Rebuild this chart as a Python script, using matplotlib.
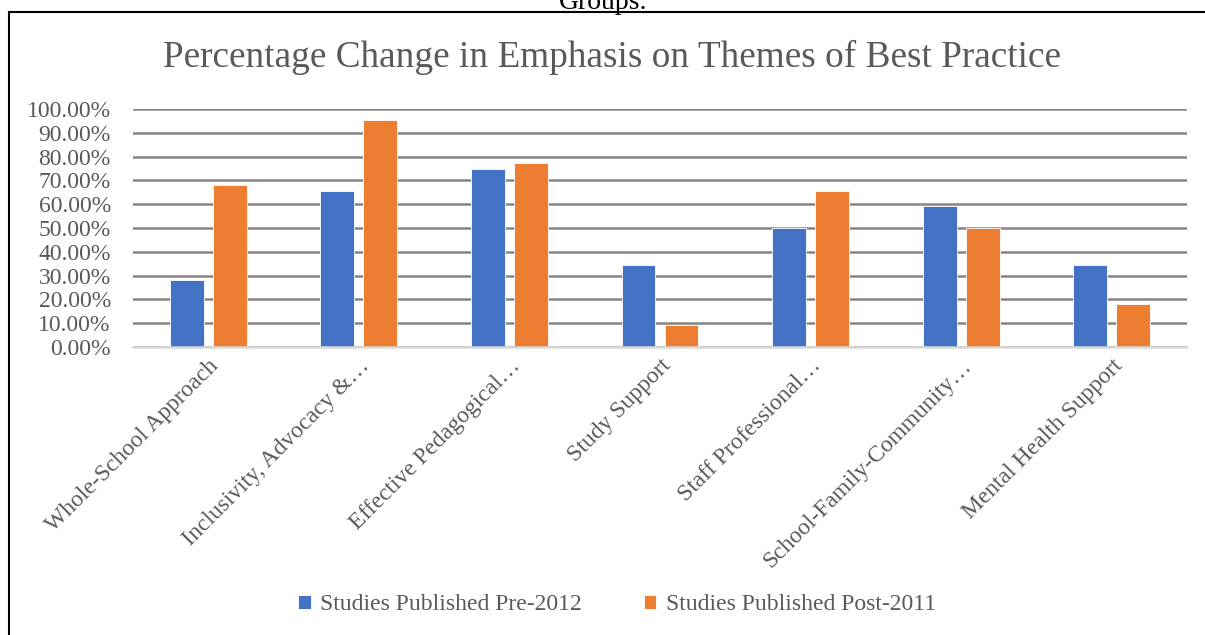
import matplotlib
matplotlib.use("Agg")
import matplotlib.pyplot as plt
import numpy as np
from matplotlib.ticker import FuncFormatter

categories = ["Whole-School Approach", "Inclusivity, Advocacy &…", "Effective Pedagogical…",
              "Study Support", "Staff Professional…", "School-Family-Community…",
              "Mental Health Support"]
pre_2012 = [28.1, 65.6, 75.0, 34.4, 50.0, 59.4, 34.4]
post_2011 = [68.2, 95.5, 77.3, 9.1, 65.6, 50.0, 18.2]
series_names = ["Studies Published Pre-2012", "Studies Published Post-2011"]
yticks = list(range(0, 101, 10))

plt.rcParams['font.family'] = ['Liberation Serif', 'DejaVu Serif']

W, H = 1205, 635
fig = plt.figure(figsize=(W / 100, H / 100), dpi=100)

# page border
border = plt.Rectangle((9 / W, -0.1), 1.2, 1 - 12 / H + 0.1, transform=fig.transFigure,
                       fill=False, edgecolor='black', linewidth=1.5)
fig.add_artist(border)
fig.text(603 / W, 1 - 9 / H, "Groups.", ha='center', va='baseline', fontsize=20, color='black')

left, right, top, bottom = 133, 1187, 109, 347
ax = fig.add_axes([left / W, 1 - bottom / H, (right - left) / W, (bottom - top) / H])

x = np.arange(len(categories))
bw = 0.225
off = 0.143
blue = '#4472C4'
orange = '#ED7D31'
ax.bar(x - off, pre_2012, bw, color=blue, edgecolor='white', linewidth=0.6, label=series_names[0], zorder=3)
ax.bar(x + off, post_2011, bw, color=orange, edgecolor='white', linewidth=0.6, label=series_names[1], zorder=3)

ax.set_xlim(-0.5, len(categories) - 0.5)
ax.set_ylim(0, 100)
ax.set_yticks(yticks)
ax.yaxis.set_major_formatter(FuncFormatter(lambda v, p: f"{v:.2f}%"))
ax.grid(axis='y', color='#858585', linewidth=1.8, zorder=0)
ax.set_axisbelow(True)
for s in ['top', 'right', 'left']:
    ax.spines[s].set_visible(False)
ax.spines['bottom'].set_color('#D9D9D9')
ax.spines['bottom'].set_linewidth(1.8)
ax.spines['bottom'].set_zorder(4)
ax.tick_params(axis='both', length=0, labelsize=17, labelcolor='#595959')
ax.tick_params(axis='y', pad=16)
ax.set_xticks(x)
ax.set_xticklabels(categories, rotation=45, ha='right', rotation_mode='anchor')
ax.tick_params(axis='x', pad=6)

fig.text(612 / W, 1 - 57 / H, "Percentage Change in Emphasis on Themes of Best Practice",
         ha='center', va='center', fontsize=26.8, color='#595959')

leg = fig.legend(loc='center', bbox_to_anchor=(617 / W, 1 - 605 / H), ncol=2, frameon=False,
                 fontsize=17, handlelength=0.55, handleheight=0.55, handletextpad=0.4,
                 columnspacing=2.6, labelcolor='#595959')

fig.savefig("out.png", dpi=100)
